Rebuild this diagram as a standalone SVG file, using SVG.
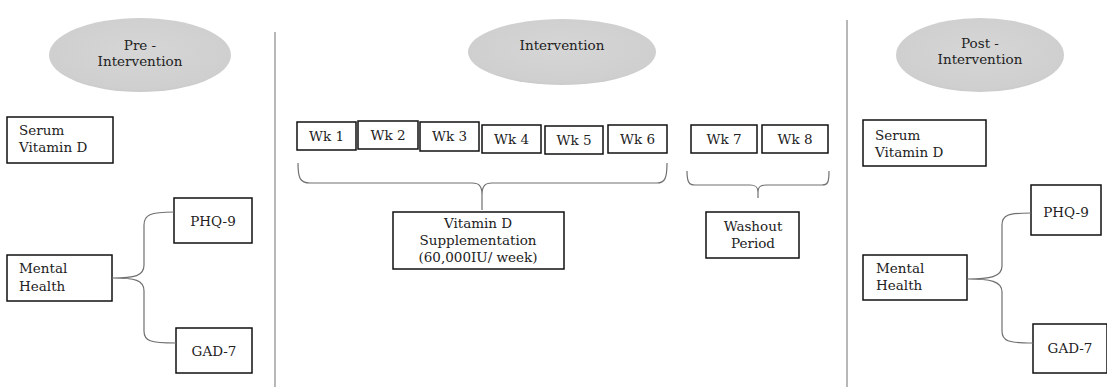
<svg xmlns="http://www.w3.org/2000/svg" width="1107" height="387" viewBox="0 0 1107 387">
<style>
text{font-family:"DejaVu Serif","Liberation Serif",serif;font-size:13.5px;fill:#222}
.c{text-anchor:middle}
.box{fill:#fff;stroke:#111;stroke-width:1.5}
.oval{fill:url(#g);stroke:none}
.br{fill:none;stroke:#707070;stroke-width:1.2}
.div{stroke:#888;stroke-width:1.2}
</style>
<defs>
<radialGradient id="g" cx="0.5" cy="0.45" r="0.6">
<stop offset="0" stop-color="#d6d6d6"/>
<stop offset="0.85" stop-color="#cfcfcf"/>
<stop offset="1" stop-color="#c4c4c4"/>
</radialGradient>
</defs>
<rect width="1107" height="387" fill="#fff"/>
<line class="div" x1="275" y1="32" x2="275" y2="387"/>
<line class="div" x1="847" y1="20" x2="847" y2="387"/>

<g id="pre-oval"><ellipse class="oval" cx="140" cy="55" rx="91" ry="37"/><text class="c" x="140" y="50">Pre -</text><text class="c" x="140" y="66">Intervention</text></g>
<g id="int-oval"><ellipse class="oval" cx="562" cy="52" rx="94" ry="33"/><text class="c" x="562" y="50">Intervention</text></g>
<g id="post-oval"><ellipse class="oval" cx="980" cy="55" rx="84" ry="37"/><text class="c" x="980" y="48">Post -</text><text class="c" x="980" y="64">Intervention</text></g>

<g id="pre-serum"><rect class="box" x="7" y="117" width="106" height="46"/><text x="19" y="135">Serum</text><text x="19" y="152">Vitamin D</text></g>
<g id="pre-mental"><rect class="box" x="7" y="255" width="105" height="46"/><text x="19" y="273">Mental</text><text x="19" y="291">Health</text></g>
<g id="pre-phq"><rect class="box" x="174" y="198" width="78" height="45"/><text class="c" x="213" y="226">PHQ-9</text></g>
<g id="pre-gad"><rect class="box" x="176" y="328" width="76" height="45"/><text class="c" x="214" y="356">GAD-7</text></g>

<g id="wk1"><rect class="box" x="297" y="122" width="59" height="28"/><text class="c" x="326.5" y="141">Wk 1</text></g>
<g id="wk2"><rect class="box" x="358" y="121" width="60" height="28"/><text class="c" x="388" y="140">Wk 2</text></g>
<g id="wk3"><rect class="box" x="420" y="122" width="59" height="29"/><text class="c" x="449.5" y="141">Wk 3</text></g>
<g id="wk4"><rect class="box" x="482" y="125" width="59" height="28"/><text class="c" x="511.5" y="144">Wk 4</text></g>
<g id="wk5"><rect class="box" x="545" y="126" width="58" height="28"/><text class="c" x="574" y="145">Wk 5</text></g>
<g id="wk6"><rect class="box" x="608" y="125" width="59" height="28"/><text class="c" x="637.5" y="144">Wk 6</text></g>
<g id="wk7"><rect class="box" x="691" y="125" width="66" height="28"/><text class="c" x="724" y="144">Wk 7</text></g>
<g id="wk8"><rect class="box" x="762" y="125" width="66" height="28"/><text class="c" x="795" y="144">Wk 8</text></g>

<g id="vitd"><rect class="box" x="393" y="212" width="171" height="57"/><text class="c" x="478" y="228">Vitamin D</text><text class="c" x="478" y="245">Supplementation</text><text class="c" x="478" y="262">(60,000IU/ week)</text></g>
<g id="washout"><rect class="box" x="706" y="212" width="93" height="46"/><text class="c" x="753" y="231">Washout</text><text class="c" x="753" y="248">Period</text></g>

<g id="post-serum"><rect class="box" x="863" y="120" width="123" height="46"/><text x="875" y="140">Serum</text><text x="875" y="157">Vitamin D</text></g>
<g id="post-mental"><rect class="box" x="863" y="255" width="104" height="45"/><text x="876" y="273">Mental</text><text x="876" y="290">Health</text></g>
<g id="post-phq"><rect class="box" x="1031" y="185" width="70" height="50"/><text class="c" x="1066" y="217">PHQ-9</text></g>
<g id="post-gad"><rect class="box" x="1033" y="324" width="74" height="49"/><text class="c" x="1070" y="353">GAD-7</text></g>

<g id="connectors" class="br">
<path d="M112,278 C135,278 144,276 144,265 L144,225 C144,215 150,212 174,212 M112,278 C135,278 144,280 144,291 L144,331 C144,341 150,343 176,343"/>
<path d="M967,279 C990,279 1002,277 1002,266 L1002,225 C1002,215 1008,213 1031,213 M967,279 C990,279 1002,281 1002,292 L1002,331 C1002,341 1008,343 1033,343"/>
<path d="M298,163 C298,178 300,183 310,183 L472,183 C479,183 482,186 482,195 L482,210 M482,195 C482,186 485,183 492,183 L657,183 C665,183 667,178 667,163"/>
<path d="M687,171 C687,182 689,185 695,185 L750,185 C756,185 758,187 758,192 L758,198 M758,192 C758,187 760,185 766,185 L822,185 C828,185 829,182 829,171"/>
</g>
</svg>
